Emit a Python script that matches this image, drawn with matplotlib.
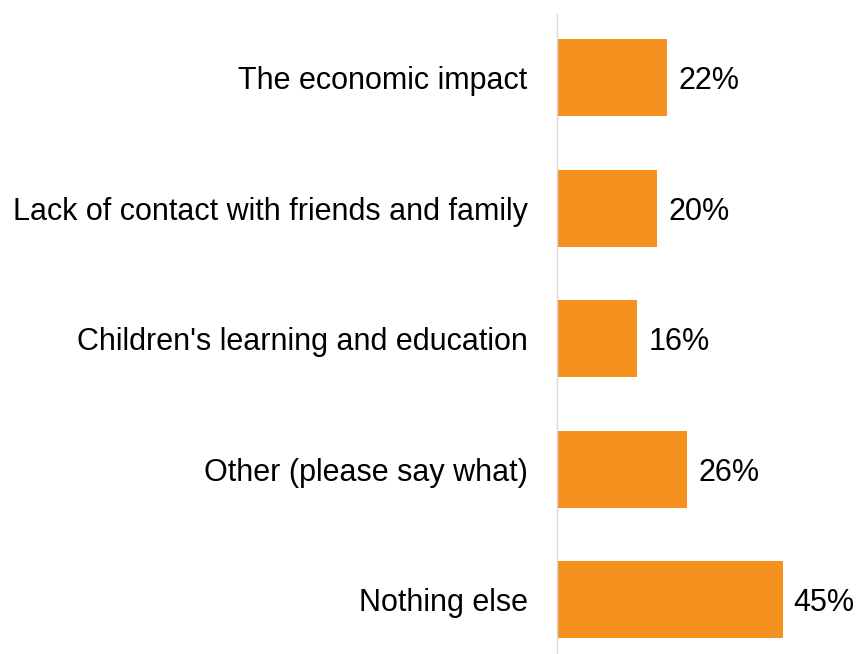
import matplotlib
matplotlib.use("Agg")
import matplotlib.pyplot as plt

categories = [
    "The economic impact",
    "Lack of contact with friends and family",
    "Children's learning and education",
    "Other (please say what)",
    "Nothing else",
]
values = [22, 20, 16, 26, 45]
value_labels = ["22%", "20%", "16%", "26%", "45%"]

plt.rcParams["font.family"] = ["Liberation Sans", "DejaVu Sans"]

W, H = 858, 654
fig = plt.figure(figsize=(W / 100, H / 100), dpi=100)
left_px, top_px, bottom_px = 556.7, 14, 654
ax = fig.add_axes([left_px / W, 1 - bottom_px / H, 1 - left_px / W, (bottom_px - top_px) / H])

pos = list(range(len(categories)))
bars = ax.barh(pos, values, height=0.59, color="#F5921F", edgecolor="none")

ax.set_xlim(0, (W - left_px) / 5.02)
ax.set_ylim(4.414, -0.49)

ax.set_yticks(pos)
ax.set_yticklabels(categories, fontsize=22, color="#000000")
ax.tick_params(axis="y", length=0, pad=21)
ax.set_xticks([])

for s in ["top", "right", "bottom"]:
    ax.spines[s].set_visible(False)
ax.spines["left"].set_color("#D9D9D9")
ax.spines["left"].set_linewidth(1.0)

for b, lab in zip(bars, value_labels):
    ax.annotate(lab, (b.get_width(), b.get_y() + b.get_height() / 2),
                xytext=(8, -2.5), textcoords="offset points",
                ha="left", va="center", fontsize=22, color="#000000")

fig.savefig("out.png", dpi=100)
